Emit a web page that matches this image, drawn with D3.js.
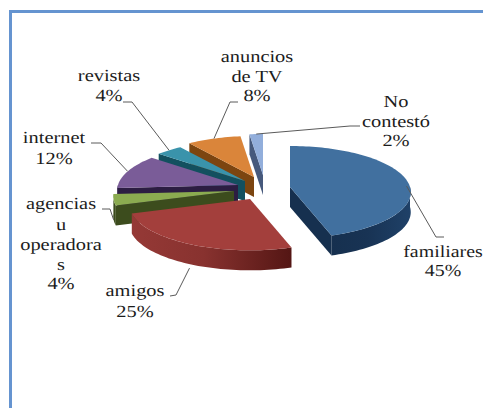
<!DOCTYPE html>
<html>
<head>
<meta charset="utf-8">
<script src="https://cdn.jsdelivr.net/npm/d3@7/dist/d3.min.js"></script>
<style>
  html, body { margin: 0; padding: 0; background: #fff; }
  svg { display: block; }
  text { font-family: "Liberation Serif", serif; font-size: 17px; fill: #1c1c1c; text-rendering: geometricPrecision; }
</style>
</head>
<body>
<div id="chart"></div>
<script>
// Survey answers
const categories = ["familiares", "amigos", "agencias u operadoras", "internet", "revistas", "anuncios de TV", "No contestó"];
const percentages = [45, 25, 4, 12, 4, 8, 2];

// Label text, wrapped the way it is set on the chart
const labelLines = [
  ["familiares", "45%"],
  ["amigos", "25%"],
  ["agencias", "u", "operadora", "s", "4%"],
  ["internet", "12%"],
  ["revistas", "4%"],
  ["anuncios", "de TV", "8%"],
  ["No", "contestó", "2%"]
];

// Slice appearance
const topColors = ["#41709f", "#a33f3c", "#8bab50", "#7a5c98", "#3a93ab", "#da853a", "#92aedb"];
const wallLeft = ["#16304f", "#953936", "#3c4c1d", "#2c1d42", "#13505f", "#7c4510", "#46597c"];
const wallRight = ["#1f4168", "#541614", "#3c4c1d", "#2c1d42", "#13505f", "#7c4510", "#46597c"];

// Layout: where each pulled-out slice has its apex on the page
const apexX = [290, 250, 234, 238, 245, 254, 263];
const apexY = [187, 199, 191, 185, 181, 177, 175];
const labelX = [443, 135, 61, 54, 109, 257, 396];
const labelY = [257, 296, 209, 143, 81, 62, 107];
const labelStretch = [1.17, 1.2, 1.2, 1.2, 1.2, 1.2, 1.2];
const lineHeights = [[0, 19], [0, 21], [0, 21, 41, 61, 80], [0, 21], [0, 20], [0, 20, 39], [0, 20, 39]];
const leaderDrop = [6, 24, 20, 0, 0, 0, 0];
const leaderElbows = [
  [[436, 237], [444, 237]],
  [[176, 295], [170, 296]],
  [[110, 209], [102, 209]],
  [[101, 143], [91, 143]],
  [[132, 102], [123, 102]],
  [[230, 102], [238, 102]],
  [[350, 126], [360, 126]]
];

const width = 483, height = 408;
const radius = 120, depth = 20, tilt = 0.38, perspective = 0.00093;
const paintOrder = [6, 5, 4, 3, 2, 1, 0];

const svg = d3.select("#chart").append("svg").attr("width", width).attr("height", height);
const defs = svg.append("defs");

// Page frame: only the top and left rules fall inside the canvas
svg.append("path")
  .attr("d", d3.line()([[width, 11.5], [10.5, 11.5], [10.5, height]]))
  .attr("fill", "none").attr("stroke", "#6594d0").attr("stroke-width", 3);

const arcs = d3.pie().sort(null).value(d => d)(percentages);

// Tilted disc with mild perspective; angle 0 is straight back, clockwise
function project(i, angle, r) {
  const X = r * Math.sin(angle), Z = r * Math.cos(angle);
  const s = 1 / (1 + Z * perspective);
  return [apexX[i] + X * s, apexY[i] - Z * tilt * s];
}
const drop = (p, d = depth) => [p[0], p[1] + d];
const sample = (a0, a1) => {
  const n = Math.max(2, Math.ceil((a1 - a0) / 0.03));
  return d3.range(n + 1).map(k => a0 + (a1 - a0) * k / n);
};
const line = d3.line();

const slices = svg.append("g");
paintOrder.forEach(i => {
  const { startAngle: a0, endAngle: a1 } = arcs[i];
  const g = slices.append("g").attr("class", "slice");
  const apex = project(i, 0, 0);
  const outer0 = project(i, a0, radius), outer1 = project(i, a1, radius);

  const grad = defs.append("linearGradient").attr("id", `wall-${i}`);
  grad.append("stop").attr("offset", "0%").attr("stop-color", wallLeft[i]);
  grad.append("stop").attr("offset", "45%").attr("stop-color", d3.interpolateRgb(wallLeft[i], wallRight[i])(0.2));
  grad.append("stop").attr("offset", "100%").attr("stop-color", wallRight[i]);

  // Cut faces that turn toward the viewer
  if (Math.sin(a0) < 0) {
    g.append("path").attr("d", line([apex, outer0, drop(outer0), drop(apex)]) + "Z").attr("fill", wallLeft[i]);
  }
  if (Math.sin(a1) > 0) {
    g.append("path").attr("d", line([apex, outer1, drop(outer1), drop(apex)]) + "Z").attr("fill", wallLeft[i]);
  }

  // Rim: only the front half of the disc shows its edge
  const f0 = Math.max(a0, Math.PI / 2), f1 = Math.min(a1, Math.PI * 1.5);
  if (f1 > f0) {
    const rim = sample(f0, f1).map(a => project(i, a, radius));
    g.append("path")
      .attr("d", line(rim.concat(rim.slice().reverse().map(p => drop(p)))) + "Z")
      .attr("fill", `url(#wall-${i})`);
  }

  // Top face
  const top = [apex].concat(sample(a0, a1).map(a => project(i, a, radius)));
  g.append("path").attr("d", line(top) + "Z").attr("fill", topColors[i]);
});

// Leader lines run from each slice's middle out to its label
const leaders = svg.append("g").attr("fill", "none").attr("stroke", "#5a5a5a").attr("stroke-width", 1);
arcs.forEach((d, i) => {
  const mid = (d.startAngle + d.endAngle) / 2;
  const anchor = drop(project(i, mid, radius), leaderDrop[i]);
  leaders.append("path").attr("d", line([anchor].concat(leaderElbows[i])));
});

// Labels are set wide: the type is stretched horizontally
const labels = svg.append("g").attr("text-anchor", "middle");
labelLines.forEach((lines, i) => {
  lines.forEach((txt, j) => {
    labels.append("text")
      .attr("transform", `translate(${labelX[i]},${labelY[i] + lineHeights[i][j]}) scale(${labelStretch[i]},1)`)
      .text(txt);
  });
});
</script>
</body>
</html>
